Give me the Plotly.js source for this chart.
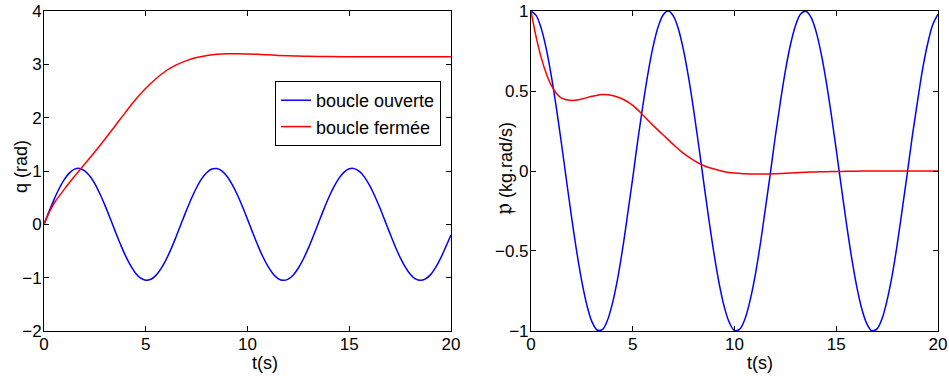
<!DOCTYPE html>
<html>
<head>
<meta charset="utf-8">
<script src="https://cdn.plot.ly/plotly-3.0.1.min.js"></script>
<style>html,body{margin:0;padding:0;background:#fff;}#chart{width:949px;height:376px;}</style>
</head>
<body>
<div id="chart"></div>
<script>
// time samples (s), step 0.25
const t = [0,0.25,0.5,0.75,1,1.25,1.5,1.75,2,2.25,2.5,2.75,3,3.25,3.5,3.75,4,4.25,4.5,4.75,5,5.25,5.5,5.75,6,6.25,6.5,6.75,7,7.25,7.5,7.75,8,8.25,8.5,8.75,9,9.25,9.5,9.75,10,10.25,10.5,10.75,11,11.25,11.5,11.75,12,12.25,12.5,12.75,13,13.25,13.5,13.75,14,14.25,14.5,14.75,15,15.25,15.5,15.75,16,16.25,16.5,16.75,17,17.25,17.5,17.75,18,18.25,18.5,18.75,19,19.25,19.5,19.75,20];
// q (rad), open loop
const qOpen = [0,0.243,0.473,0.677,0.844,0.965,1.035,1.048,1.004,0.906,0.759,0.569,0.351,0.113,-0.132,-0.369,-0.588,-0.771,-0.916,-1.011,-1.049,-1.030,-0.957,-0.831,-0.661,-0.455,-0.224,0.020,0.262,0.490,0.691,0.856,0.973,1.038,1.046,0.998,0.896,0.745,0.554,0.333,0.093,-0.151,-0.387,-0.604,-0.784,-0.925,-1.016,-1.050,-1.026,-0.949,-0.819,-0.646,-0.437,-0.205,0.039,0.281,0.507,0.706,0.867,0.980,1.041,1.045,0.992,0.886,0.731,0.537,0.314,0.074,-0.170,-0.405,-0.620,-0.797,-0.934,-1.021,-1.050,-1.022,-0.943,-0.806,-0.630,-0.419,-0.200];
// p (kg.rad/s), open loop
const pOpen = [1,0.973,0.893,0.765,0.595,0.393,0.170,-0.063,-0.293,-0.506,-0.691,-0.840,-0.943,-0.994,-0.992,-0.936,-0.829,-0.679,-0.489,-0.270,-0.044,0.193,0.411,0.611,0.777,0.901,0.977,1.000,0.968,0.885,0.753,0.580,0.376,0.151,-0.082,-0.310,-0.521,-0.705,-0.850,-0.948,-0.996,-0.990,-0.930,-0.818,-0.665,-0.473,-0.252,-0.026,0.211,0.428,0.626,0.789,0.909,0.981,0.999,0.964,0.876,0.740,0.565,0.358,0.133,-0.100,-0.328,-0.537,-0.718,-0.859,-0.954,-0.998,-0.987,-0.923,-0.807,-0.651,-0.456,-0.234,-0.007,0.229,0.440,0.641,0.800,0.917,0.980];
// q (rad), closed loop
const tQClosed = [0,0.25,0.5,1,1.5,2,2.5,3,3.5,4,4.5,5,5.5,6,6.5,7,7.5,8,8.5,9,9.5,10,10.5,11,11.5,12,12.5,13,13.5,14,15,16,17,18,19,20];
const qClosed = [0,0.22,0.4,0.66,0.9,1.13,1.36,1.6,1.85,2.1,2.34,2.55,2.73,2.88,2.99,3.07,3.13,3.165,3.19,3.2,3.2,3.195,3.188,3.178,3.168,3.16,3.155,3.15,3.147,3.145,3.143,3.142,3.142,3.142,3.142,3.142];
// p (kg.rad/s), closed loop
const tPClosed = [0,0.25,0.5,0.75,1,1.25,1.5,2,2.5,3,3.5,4,4.5,5,5.5,6,6.5,7,7.5,8,8.5,9,9.5,10,10.5,11,11.5,12,12.5,13,13.5,14,14.5,15,15.5,16,16.5,17,18,19,20];
const pClosed = [1,0.84,0.71,0.61,0.535,0.485,0.455,0.44,0.45,0.467,0.478,0.472,0.45,0.41,0.35,0.285,0.225,0.165,0.11,0.067,0.033,0.012,-0.004,-0.013,-0.017,-0.019,-0.019,-0.017,-0.014,-0.011,-0.008,-0.006,-0.004,-0.003,-0.002,-0.001,0,0,0,0,0];
const legendNames = ['boucle ouverte','boucle fermée'];
const xTicks = [0,5,10,15,20];
const yTicksQ = [-2,-1,0,1,2,3,4];
const yTicksP = [-1,-0.5,0,0.5,1];

const BLUE = '#0000ff', RED = '#ff0000';
const FAM = 'Liberation Sans, Arial, sans-serif';
const TICKFONT = {family:FAM, size:17, color:'#000'};
const TITLEFONT = {family:FAM, size:18, color:'#000'};
const lineW = 1.5;

const traces = [
  {x:t, y:qOpen, type:'scatter', mode:'lines', name:legendNames[0], line:{color:BLUE, width:lineW, shape:'spline'}, xaxis:'x', yaxis:'y'},
  {x:tQClosed, y:qClosed, type:'scatter', mode:'lines', name:legendNames[1], line:{color:RED, width:lineW, shape:'spline'}, xaxis:'x', yaxis:'y'},
  {x:t, y:pOpen, type:'scatter', mode:'lines', showlegend:false, line:{color:BLUE, width:lineW, shape:'spline'}, xaxis:'x2', yaxis:'y2'},
  {x:tPClosed, y:pClosed, type:'scatter', mode:'lines', showlegend:false, line:{color:RED, width:lineW, shape:'spline'}, xaxis:'x2', yaxis:'y2'}
];

const axBase = {showline:true, linecolor:'#000', linewidth:1, mirror:'ticks', ticks:'inside', ticklen:5, tickcolor:'#000', showgrid:false, zeroline:false, tickfont:TICKFONT, ticklabelstandoff:-2};

const layout = {
  width:949, height:376,
  margin:{l:0, r:0, t:0, b:0},
  paper_bgcolor:'#fff', plot_bgcolor:'#fff',
  font:TITLEFONT,
  showlegend:true,
  legend:{x:0.2898, y:1-81/376, xanchor:'left', yanchor:'top', bgcolor:'#fff', bordercolor:'#000', borderwidth:1, font:TITLEFONT, tracegroupgap:0, itemwidth:30},
  xaxis:Object.assign({}, axBase, {domain:[0.0464,0.4752], range:[0,20], tickvals:xTicks, anchor:'y'}),
  yaxis:Object.assign({}, axBase, {domain:[0.1197,0.9707], range:[-2,4], tickvals:yTicksQ, anchor:'x'}),
  xaxis2:Object.assign({}, axBase, {domain:[0.5595,0.9884], range:[0,20], tickvals:xTicks, anchor:'y2'}),
  yaxis2:Object.assign({}, axBase, {domain:[0.1197,0.9707], range:[-1,1], tickvals:yTicksP, anchor:'x2'}),
  annotations:[
    {text:'t(s)', xref:'paper', yref:'paper', x:265/949, y:1-363/376, xanchor:'center', yanchor:'middle', showarrow:false, font:TITLEFONT},
    {text:'t(s)', xref:'paper', yref:'paper', x:760/949, y:1-363/376, xanchor:'center', yanchor:'middle', showarrow:false, font:TITLEFONT},
    {text:'q (rad)', xref:'paper', yref:'paper', x:21/949, y:1-167/376, xanchor:'center', yanchor:'middle', textangle:-90, showarrow:false, font:TITLEFONT},
    {text:'<span style="font-family:DejaVu Serif;font-size:26px">𝔭</span> (kg.rad/s)', xref:'paper', yref:'paper', x:503/949, y:1-168/376, xanchor:'center', yanchor:'middle', textangle:-90, showarrow:false, font:TITLEFONT}
  ]
};

Plotly.newPlot('chart', traces, layout, {staticPlot:true, displayModeBar:false});
</script>
</body>
</html>
